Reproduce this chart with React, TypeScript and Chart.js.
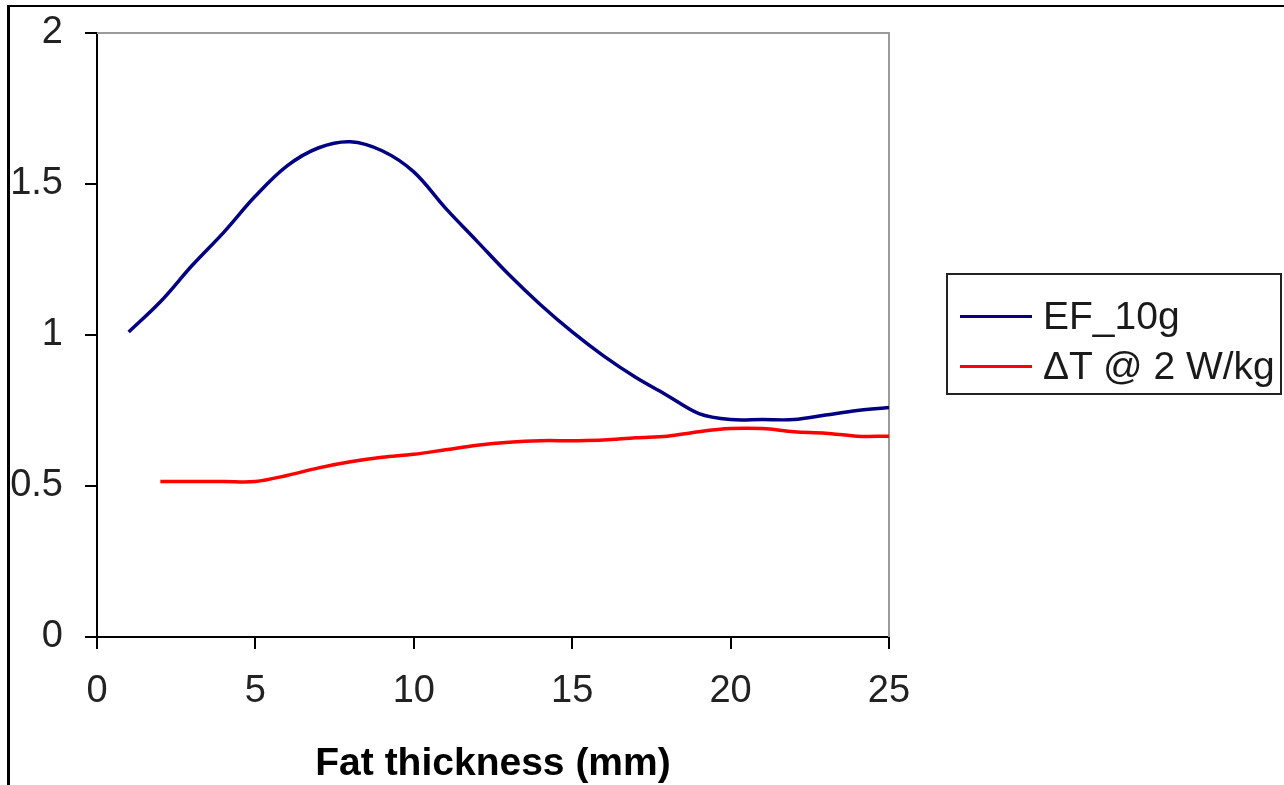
import React, { useEffect, useRef } from "react";
import { Chart, registerables } from "chart.js";

Chart.register(...registerables);

const efThickness = [1, 2, 3, 4, 5, 6, 7, 8, 9, 10, 11, 12, 13, 14, 15, 16, 17, 18, 19, 20, 21, 22, 23, 24, 25];
const efValues = [1.01, 1.11, 1.23, 1.34, 1.46, 1.56, 1.62, 1.64, 1.61, 1.54, 1.42, 1.31, 1.2, 1.1, 1.01, 0.93, 0.86, 0.8, 0.74, 0.72, 0.72, 0.72, 0.735, 0.75, 0.76];
const dtThickness = [2, 3, 4, 5, 6, 7, 8, 9, 10, 11, 12, 13, 14, 15, 16, 17, 18, 19, 20, 21, 22, 23, 24, 25];
const dtValues = [0.515, 0.515, 0.515, 0.515, 0.535, 0.56, 0.58, 0.595, 0.605, 0.62, 0.635, 0.645, 0.65, 0.65, 0.652, 0.66, 0.665, 0.68, 0.69, 0.69, 0.68, 0.675, 0.665, 0.665];

const yTickValues = [0, 0.5, 1, 1.5, 2];
const yTickLabels = ["0", "0.5", "1", "1.5", "2"];
const xTickValues = [0, 5, 10, 15, 20, 25];
const xTickLabels = ["0", "5", "10", "15", "20", "25"];

const seriesLabels = ["EF_10g", "\u0394T @ 2 W/kg"];
const seriesColors = ["#000080", "#ff0000"];
const xTitle = "Fat thickness (mm)";

const FONT = "'Liberation Sans', Arial, sans-serif";

function labelFor(values: number[], labels: string[], v: number) {
  const i = values.findIndex((t) => Math.abs(t - v) < 1e-9);
  return i >= 0 ? labels[i] : "";
}

export default function App() {
  const canvasRef = useRef<HTMLCanvasElement | null>(null);

  useEffect(() => {
    const canvas = canvasRef.current;
    if (!canvas) return;
    const frame = {
      id: "plotFrame",
      beforeDatasetsDraw(chart: any) {
        const { ctx, chartArea } = chart;
        ctx.save();
        ctx.strokeStyle = "#9a9a9a";
        ctx.lineWidth = 2;
        ctx.beginPath();
        ctx.moveTo(chartArea.left, chartArea.top);
        ctx.lineTo(chartArea.right, chartArea.top);
        ctx.lineTo(chartArea.right, chartArea.bottom);
        ctx.stroke();
        ctx.restore();
      },
    };
    const chart = new Chart(canvas, {
      type: "line",
      data: {
        datasets: [
          {
            label: seriesLabels[0],
            data: efThickness.map((x, i) => ({ x, y: efValues[i] })),
            borderColor: seriesColors[0],
            borderWidth: 3.5,
            pointRadius: 0,
            tension: 0.35,
            fill: false,
          },
          {
            label: seriesLabels[1],
            data: dtThickness.map((x, i) => ({ x, y: dtValues[i] })),
            borderColor: seriesColors[1],
            borderWidth: 3.5,
            pointRadius: 0,
            tension: 0.35,
            fill: false,
          },
        ],
      },
      plugins: [frame],
      options: {
        animation: false,
        responsive: false,
        events: [],
        layout: { padding: { left: 0, top: 33, right: 395, bottom: 0 } },
        plugins: { legend: { display: false }, tooltip: { enabled: false } },
        scales: {
          x: {
            type: "linear",
            min: 0,
            max: 25,
            afterFit: (s: any) => {
              s.height = 148;
              s.paddingLeft = 0;
              s.paddingRight = 0;
            },
            afterBuildTicks: (s: any) => {
              s.ticks = xTickValues.map((v) => ({ value: v }));
            },
            ticks: {
              color: "#222",
              padding: 20,
              maxRotation: 0,
              font: { family: FONT, size: 38 },
              callback: (v: any) => labelFor(xTickValues, xTickLabels, Number(v)),
            },
            grid: { drawOnChartArea: false, drawTicks: true, tickLength: 12, color: "#000", lineWidth: 2 },
            border: { display: true, color: "#000", width: 2 },
            title: {
              display: true,
              text: xTitle,
              color: "#000",
              font: { family: FONT, size: 39, weight: "bold" },
              padding: { top: 0, bottom: -3 },
            },
          },
          y: {
            min: 0,
            max: 2,
            afterFit: (s: any) => {
              s.width = 97;
              s.paddingTop = 0;
              s.paddingBottom = 0;
            },
            afterBuildTicks: (s: any) => {
              s.ticks = yTickValues.map((v) => ({ value: v }));
            },
            ticks: {
              color: "#222",
              padding: 22,
              font: { family: FONT, size: 38 },
              callback: (v: any) => labelFor(yTickValues, yTickLabels, Number(v)),
            },
            grid: { drawOnChartArea: false, drawTicks: true, tickLength: 12, color: "#000", lineWidth: 2 },
            border: { display: true, color: "#000", width: 2 },
          },
        },
      },
    });
    return () => chart.destroy();
  }, []);

  return (
    <div style={{ position: "fixed", left: 0, top: 0, width: 1284, height: 785, background: "#fff", overflow: "hidden" }}>
      <canvas ref={canvasRef} width={1284} height={785} style={{ position: "absolute", left: 0, top: 0 }} />
      <div
        style={{
          position: "absolute",
          left: 7,
          top: 5,
          width: 1300,
          height: 800,
          borderLeft: "3px solid #000",
          borderTop: "2px solid #000",
          pointerEvents: "none",
        }}
      />
      <div
        style={{
          position: "absolute",
          left: 946,
          top: 273,
          width: 332,
          height: 118,
          border: "2px solid #222",
          fontFamily: FONT,
          fontSize: 39,
          color: "#1a1a1a",
        }}
      >
        {seriesLabels.map((label, i) => (
          <div key={label} style={{ position: "absolute", left: 12, top: 18 + i * 50, height: 46, display: "flex", alignItems: "center", whiteSpace: "nowrap" }}>
            <div style={{ width: 72, height: 3, background: seriesColors[i], marginRight: 11 }} />
            <span style={{ lineHeight: "46px" }}>{label}</span>
          </div>
        ))}
      </div>
    </div>
  );
}
